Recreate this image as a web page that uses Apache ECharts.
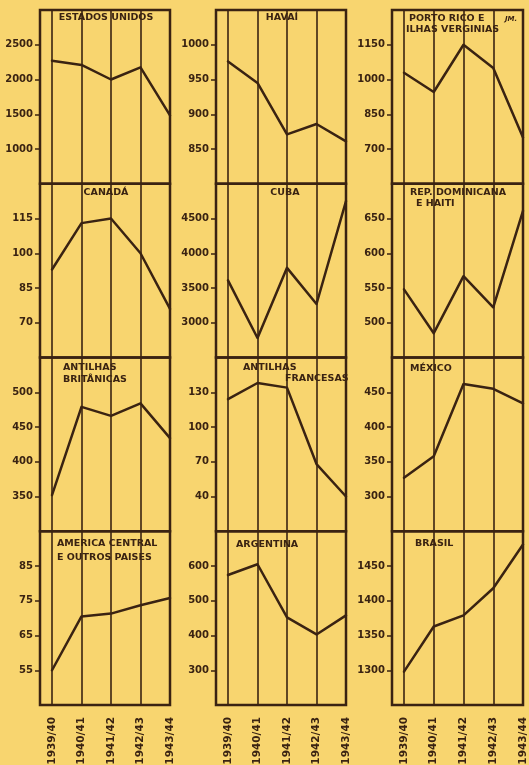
<!DOCTYPE html>
<html><head><meta charset="utf-8">
<script src="https://cdn.jsdelivr.net/npm/echarts/dist/echarts.min.js"></script>
<style>html,body{margin:0;padding:0;background:#f8d56f;}#c{width:529px;height:765px;}</style>
</head><body><div id="c"></div>
<script>
// ---- data ----
const categories = ['1939/40', '1940/41', '1941/42', '1942/43', '1943/44'];

const estadosUnidos = [2270, 2210, 2000, 2175, 1485];
const estadosUnidosTicks = [1000, 1500, 2000, 2500];
const havai = [976, 945, 871, 886, 861];
const havaiTicks = [850, 900, 950, 1000];
const portoRico = [1029, 946, 1150, 1050, 750];
const portoRicoTicks = [700, 850, 1000, 1150];

const canada = [93, 113, 115, 100, 76];
const canadaTicks = [70, 85, 100, 115];
const cuba = [3610, 2780, 3790, 3270, 4750];
const cubaTicks = [3000, 3500, 4000, 4500];
const repDominicana = [548, 485, 567, 522, 661];
const repDominicanaTicks = [500, 550, 600, 650];

const antilhasBritanicas = [352, 479, 466, 484, 434];
const antilhasBritanicasTicks = [350, 400, 450, 500];
const antilhasFrancesas = [124, 138, 134, 68, 40];
const antilhasFrancesasTicks = [40, 70, 100, 130];
const mexico = [327, 358, 462, 455, 434];
const mexicoTicks = [300, 350, 400, 450];

const americaCentral = [55, 70.5, 71.3, 73.7, 75.8];
const americaCentralTicks = [55, 65, 75, 85];
const argentina = [574, 605, 452, 403, 458];
const argentinaTicks = [300, 400, 500, 600];
const brasil = [1298, 1363, 1379, 1418, 1481];
const brasilTicks = [1300, 1350, 1400, 1450];

const panels = [
  { data: estadosUnidos, ticks: estadosUnidosTicks, min: 500, max: 3000 },
  { data: havai, ticks: havaiTicks, min: 800, max: 1050 },
  { data: portoRico, ticks: portoRicoTicks, min: 550, max: 1300 },
  { data: canada, ticks: canadaTicks, min: 55, max: 130 },
  { data: cuba, ticks: cubaTicks, min: 2500, max: 5000 },
  { data: repDominicana, ticks: repDominicanaTicks, min: 450, max: 700 },
  { data: antilhasBritanicas, ticks: antilhasBritanicasTicks, min: 300, max: 550 },
  { data: antilhasFrancesas, ticks: antilhasFrancesasTicks, min: 10, max: 160 },
  { data: mexico, ticks: mexicoTicks, min: 250, max: 500 },
  { data: americaCentral, ticks: americaCentralTicks, min: 45, max: 95 },
  { data: argentina, ticks: argentinaTicks, min: 200, max: 700 },
  { data: brasil, ticks: brasilTicks, min: 1250, max: 1500 }
];

// ---- layout / style ----
const ink = '#3a2312';
const colLeft = [40, 216, 392];
const colRight = [170, 346, 523];
const rowTop0 = 10, rowH = 173.75;
const titleFont = { fontFamily: 'DejaVu Sans', fontWeight: 'bold', fontSize: 9.5, color: ink, lineHeight: 11 };

const grid = [], xAxis = [], yAxis = [], series = [];
panels.forEach((p, i) => {
  const r = Math.floor(i / 3), c = i % 3;
  const L = colLeft[c], R = colRight[c], T = rowTop0 + r * rowH;
  grid.push({ left: L, top: T, width: R - L, height: rowH, show: true, borderColor: ink, borderWidth: 2.5,
    backgroundColor: 'transparent', outerBoundsMode: 'none', containLabel: false });
  xAxis.push({ gridIndex: 2 * i, type: 'value', show: false });
  yAxis.push({ gridIndex: 2 * i, type: 'value', show: false });
  grid.push({ left: L + 12, top: T, width: R - L - 12, height: rowH, outerBoundsMode: 'none', containLabel: false });
  xAxis.push({ gridIndex: 2 * i + 1, type: 'category', boundaryGap: false, data: categories,
    axisLine: { show: false }, axisTick: { show: false },
    splitLine: { show: true, lineStyle: { color: ink, width: 1.6 } },
    axisLabel: { show: r === 3, rotate: 90, margin: 12, interval: 0, fontSize: 10.5, fontWeight: 'bold',
      fontFamily: 'DejaVu Sans', color: ink } });
  yAxis.push({ gridIndex: 2 * i + 1, type: 'value', min: p.min, max: p.max, offset: 12,
    splitLine: { show: false }, axisLine: { show: false },
    axisTick: { show: true, length: 5, customValues: p.ticks, lineStyle: { color: ink, width: 1.5 } },
    axisLabel: { customValues: p.ticks, margin: 7, fontSize: 10, fontWeight: 'bold', fontFamily: 'DejaVu Sans', color: ink,
      formatter: v => String(v) } });
  series.push({ type: 'line', xAxisIndex: 2 * i + 1, yAxisIndex: 2 * i + 1, data: p.data, symbol: 'none',
    lineStyle: { color: ink, width: 2.5, join: 'round', cap: 'round' }, silent: true });
});

function t(text, left, top, align, extra) {
  return Object.assign({ text: text, left: left, top: top, padding: 0, textAlign: align || 'left',
    textStyle: Object.assign({}, titleFont, extra || {}) });
}
const title = [
  t('ESTADOS UNIDOS', 106, 12, 'center'),
  t('HAVAÍ', 282, 12, 'center'),
  t('PORTO RICO E', 409, 13),
  t('ILHAS VERGINIAS', 406, 24),
  t('JM.', 505, 14, 'left', { fontSize: 7, fontStyle: 'italic' }),
  t('CANADÁ', 106, 187, 'center'),
  t('CUBA', 285, 187, 'center'),
  t('REP. DOMINICANA', 410, 187),
  t('E HAITI', 416, 198),
  t('ANTILHAS', 63, 362),
  t('BRITÂNICAS', 63, 374),
  t('ANTILHAS', 243, 362),
  t('FRANCESAS', 285, 373),
  t('MÉXICO', 410, 363),
  t('AMERICA CENTRAL', 57, 538),
  t('E OUTROS PAISES', 57, 552),
  t('ARGENTINA', 236, 539),
  t('BRASIL', 415, 538)
];

const chart = echarts.init(document.getElementById('c'), null, { renderer: 'canvas' });
chart.setOption({
  backgroundColor: '#f8d56f',
  animation: false,
  title: title,
  grid: grid,
  xAxis: xAxis,
  yAxis: yAxis,
  series: series
});
</script></body></html>
